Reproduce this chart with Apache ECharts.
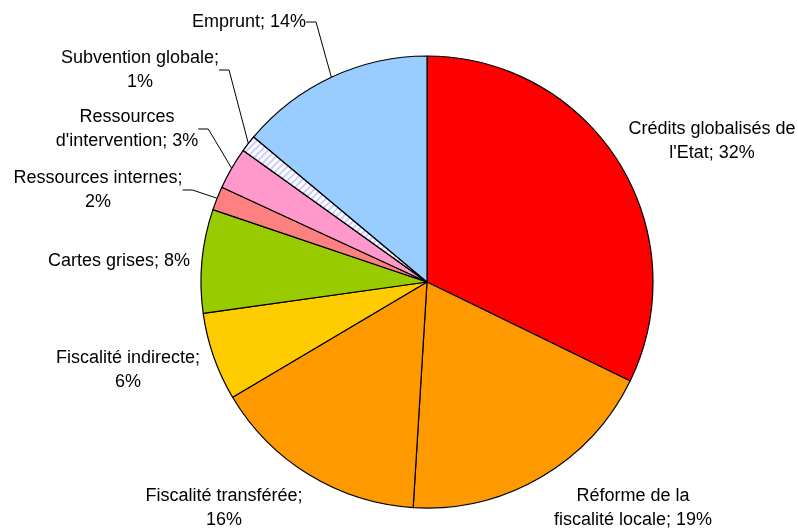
<!DOCTYPE html>
<html>
<head>
<meta charset="utf-8">
<script src="https://cdn.jsdelivr.net/npm/echarts@6/dist/echarts.min.js"></script>
<style>html,body{margin:0;padding:0;background:#fff;}#c{width:798px;height:530px;}</style>
</head>
<body>
<div id="c"></div>
<script>
// Categories (clockwise from top)
var categories = ["Crédits globalisés de l'Etat", "Réforme de la fiscalité locale", "Fiscalité transférée", "Fiscalité indirecte", "Cartes grises", "Ressources internes", "Ressources d'intervention", "Subvention globale", "Emprunt"];
// Slice shares
var values = [32.2, 18.75, 15.5, 6.3, 7.4, 1.7, 3.0, 1.2, 13.9];
// Percent labels as printed in the chart
var labelPercents = [32, 19, 16, 6, 8, 2, 3, 1, 14];

var colors = ['#FF0000', '#FF9900', '#FF9900', '#FFCC00', '#99CC00', '#FF8080', '#FF99CC', '#FFFFFF', '#99CCFF'];
// number of words on the first label line (0 = single line)
var breakAfterWords = [3, 3, 2, 2, 0, 2, 1, 2, 0];
var labelPos = [[712, 141], [633, 508], [224, 508], [128, 370], [119, 261], [98, 190], [127, 129], [140, 70], [249, 22]];
var showLine = [false, false, false, false, false, true, true, true, true];

var data = categories.map(function (name, i) {
  var item = {
    name: name,
    value: values[i],
    itemStyle: { color: colors[i] },
    labelLine: { show: showLine[i] }
  };
  if (i === 7) {
    item.itemStyle.decal = {
      symbol: 'rect', color: '#CCCCFF', backgroundColor: '#FFFFFF',
      dashArrayX: [1, 0], dashArrayY: [2, 3], rotation: -Math.PI / 4, symbolSize: 1
    };
  }
  return item;
});

function labelText(p) {
  var words = (p.name + '; ' + labelPercents[p.dataIndex] + '%').split(' ');
  var n = breakAfterWords[p.dataIndex];
  if (!n) return words.join(' ');
  return words.slice(0, n).join(' ') + '\n' + words.slice(n).join(' ');
}

var chart = echarts.init(document.getElementById('c'), null, { renderer: 'canvas' });
chart.setOption({
  animation: false,
  backgroundColor: '#FFFFFF',
  series: [{
    type: 'pie',
    center: [427, 282],
    radius: 226,
    startAngle: 90,
    clockwise: true,
    avoidLabelOverlap: false,
    itemStyle: { borderColor: '#000', borderWidth: 1.2 },
    emphasis: { disabled: true },
    label: {
      show: true,
      position: 'outside',
      fontFamily: 'Liberation Sans, Arial, sans-serif',
      fontSize: 18,
      lineHeight: 24,
      color: '#000',
      align: 'center',
      formatter: labelText
    },
    labelLine: { lineStyle: { color: '#000', width: 1 }, length: 10, length2: 10 },
    labelLayout: function (p) {
      var pos = labelPos[p.dataIndex];
      return { x: pos[0], y: pos[1], align: 'center', verticalAlign: 'middle' };
    },
    data: data
  }]
});
</script>
</body>
</html>
